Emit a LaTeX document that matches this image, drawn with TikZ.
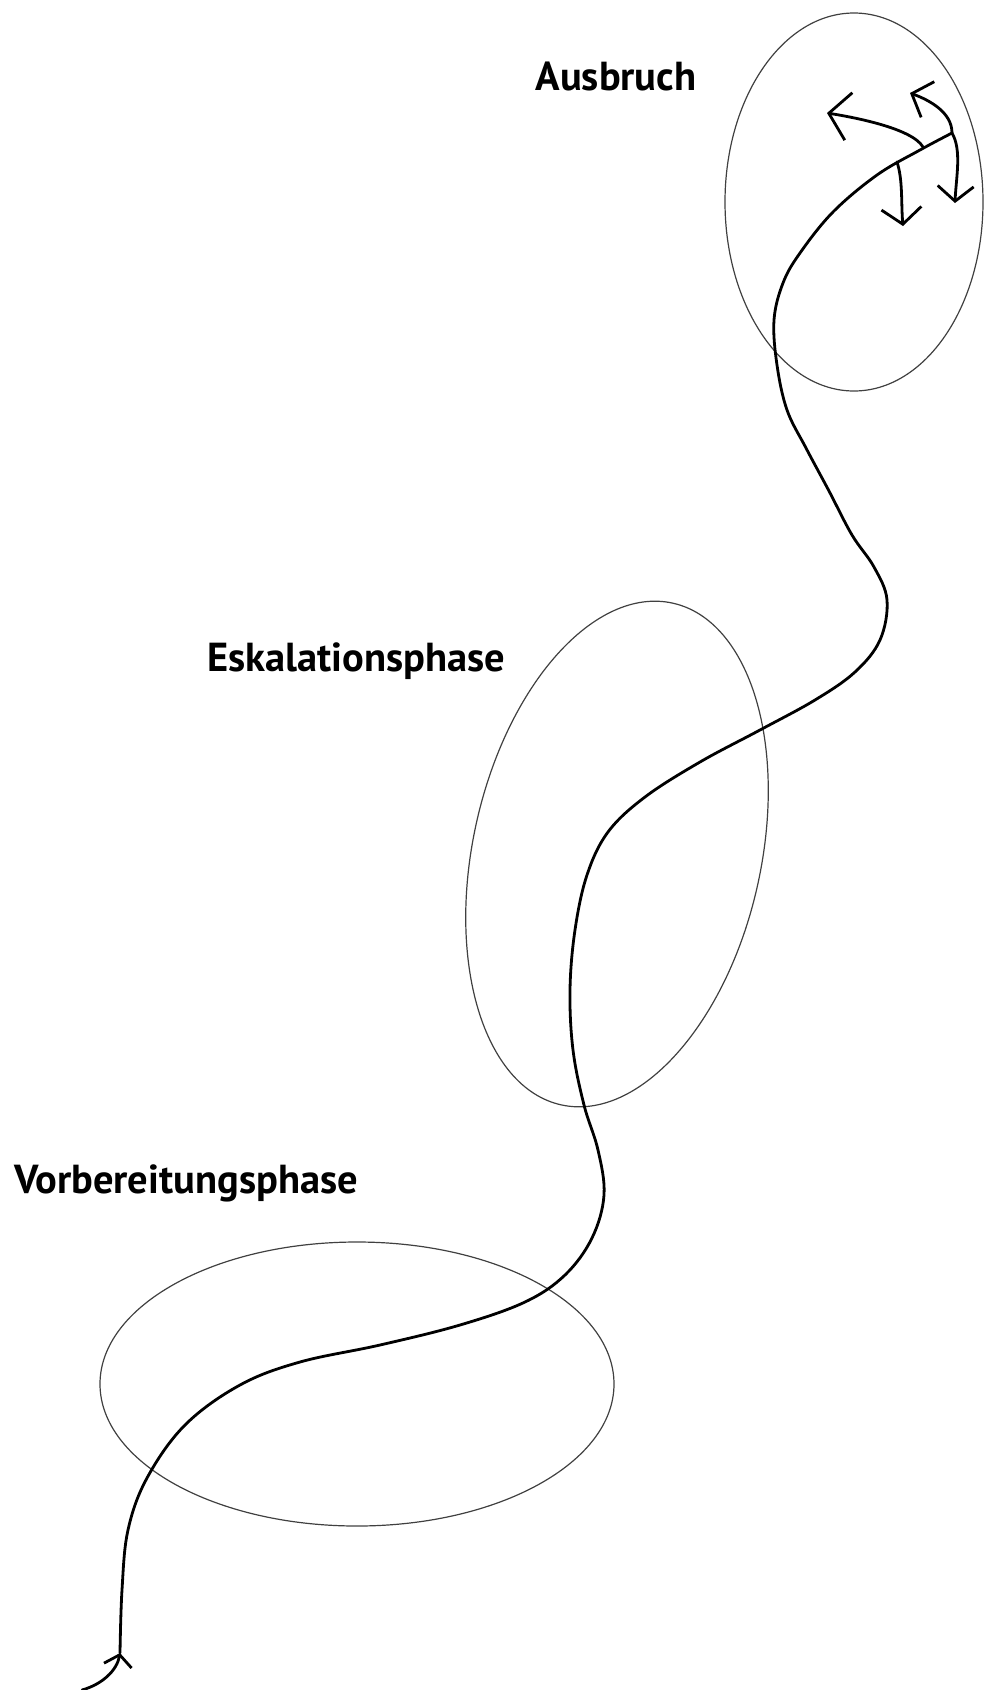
\documentclass[tikz,border=0pt]{standalone}
\usepackage{fontspec}
\setmainfont{PT Sans}
\usetikzlibrary{shapes.geometric,arrows.meta}
\begin{document}
\begin{tikzpicture}[x=1pt,y=-1pt,
  phase/.style={draw=black!75, line width=1.2pt, ellipse, inner sep=0pt},
  label/.style={font=\fontsize{40.5}{48}\selectfont\bfseries, inner sep=0pt, anchor=base},
  path line/.style={line width=2.8pt, line cap=round, line join=round},
  smalltip/.style={-{Straight Barb[length=11pt,width=28pt]}}]
\useasboundingbox (0,0) rectangle (984,1690);
% phases
\node[phase, minimum width=258pt, minimum height=378pt] (aus) at (854,202) {};
\node[phase, minimum width=288pt, minimum height=514pt, rotate=-12.55] (esk) at (617,854) {};
\node[phase, minimum width=514pt, minimum height=284pt] (vor) at (357,1384) {};
% labels
\node[label] (tAus) at (616,90) {Ausbruch};
\node[label] (tEsk) at (356,671) {Eskalationsphase};
\node[label] (tVor) at (186,1193) {Vorbereitungsphase};
% path
\coordinate (tail) at (82,1690);
\coordinate (tip) at (120,1653);
\draw[path line, smalltip] (tail) .. controls (103,1684) and (117,1670) .. (tip);
\draw[path line] plot[smooth, tension=0.6] coordinates {
 (120,1653) (122,1590) (128,1530) (147,1478) (185,1425) (240,1385) (300,1362)
 (380,1345) (460,1325) (525,1302) (565,1275) (592,1238) (604,1195) (598,1150)
 (584,1105) (573,1050) (570,990) (575,930) (587,875) (608,832) (645,797)
 (700,762) (760,730) (815,700) (855,672) (880,640) (887,600) (874,567)
 (852,535) (829,491) (806,448) (787,410) (777,365) (774,320) (783,283)
 (800,253) (833,212) (877,175) (920,150) (952,133)};
\coordinate (e1) at (952,133);
\coordinate (bA) at (923,147);
\coordinate (bD) at (897,162);
\coordinate (tA) at (827,113);
\coordinate (tB) at (910,93);
\coordinate (tC) at (955,203);
\coordinate (tD) at (903,226);
\draw[path line, -{Straight Barb[length=20pt,width=48pt]}] (bA) .. controls (912,128) and (852,117) .. (tA);
\draw[path line, -{Straight Barb[length=17pt,width=38pt]}] (e1) .. controls (952,112) and (929,100) .. (tB);
\draw[path line, -{Straight Barb[length=15pt,width=36pt]}] (e1) .. controls (962,150) and (956,178) .. (tC);
\draw[path line, -{Straight Barb[length=16pt,width=40pt]}] (bD) .. controls (903,180) and (901,204) .. (tD);
\end{tikzpicture}
\end{document}
